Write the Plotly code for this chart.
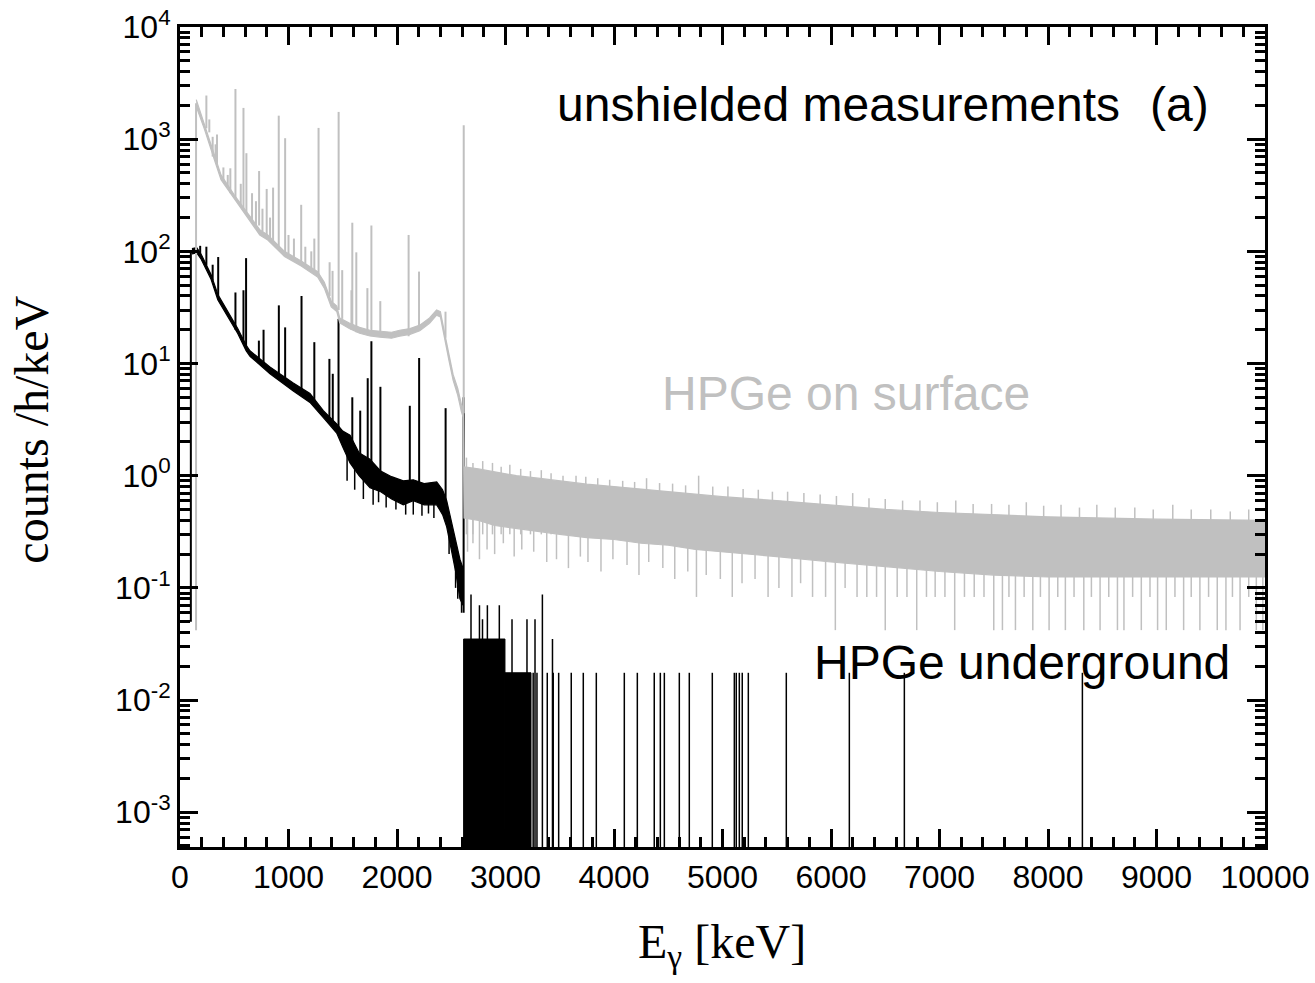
import plotly.graph_objects as go

# ---------------- data ----------------
# HPGe on surface (grey): continuum envelope (lower / upper edge of the drawn trace)
grey_cont_E = [150, 225, 317, 378, 501, 655, 735, 809, 963, 1117, 1195, 1268, 1330, 1394, 1445, 1472,
               1560, 1655, 1750, 1840, 1950, 2024, 2120, 2210, 2300, 2365, 2400, 2440, 2480, 2517, 2560, 2594, 2611,
               2618, 2750, 2900, 3100, 3300, 3500, 3750, 4000, 4250, 4500, 4750, 5000, 5500, 6000, 6500,
               7000, 7500, 8000, 9000, 10000]
grey_cont_lo = [1950, 1230, 655, 435, 288, 180, 140, 126, 90, 74, 66, 59, 47, 32, 29, 23,
                20.5, 18.6, 17.6, 17.2, 16.8, 17.5, 18.2, 19.6, 22.8, 27, 26, 16.5, 10.5, 7.1, 5.2, 3.7, 3.3,
                0.42, 0.40, 0.36, 0.34, 0.32, 0.30, 0.28, 0.27, 0.25, 0.24, 0.22, 0.21, 0.19, 0.17, 0.155,
                0.14, 0.13, 0.125, 0.125, 0.125]
grey_cont_hi = [2250, 1360, 725, 480, 318, 200, 156, 140, 100, 82, 73, 66, 53, 36, 32.5, 25.5,
                23, 21, 19.8, 19.3, 19, 19.8, 20.5, 22, 25.5, 30, 29, 18.5, 12, 8, 6, 4.3, 4.0,
                1.2, 1.15, 1.08, 1.0, 0.95, 0.9, 0.84, 0.8, 0.76, 0.72, 0.68, 0.65, 0.6, 0.55, 0.5,
                0.47, 0.45, 0.43, 0.41, 0.40]
# grey photopeaks: energy, top, base
grey_peak_E    = [148, 243, 270, 301, 328, 341, 400, 440, 464, 511, 560, 585, 612, 664, 700, 729, 760, 799,
                  830, 858, 910, 969, 1000, 1050, 1117, 1155, 1210, 1238, 1277,
                  1379, 1406, 1462, 1495, 1580, 1588, 1625, 1727, 1764, 1846, 2107, 2203, 2447, 2615]
grey_peak_top  = [2090, 2450, 1500, 1050, 900, 1100, 560, 480, 550, 2800, 400, 1900, 750, 330, 280, 520, 240, 360,
                  200, 370, 1620, 1020, 140, 130, 260, 110, 100, 130, 1260,
                  80, 67, 1750, 68, 45, 180, 98, 47, 170, 36, 140, 66, 29, 1330]
grey_peak_base = [0.042, 1250, 1150, 700, 640, 600, 430, 370, 330, 300, 255, 240, 220, 190, 172, 170, 150, 140,
                  128, 120, 105, 95, 92, 86, 78, 74, 70, 64, 62,
                  40, 35, 30, 25, 20, 20, 19, 18, 18, 18, 17.5, 20, 17, 3.6]
# grey noise: downward and upward excursions above 2614 keV
grey_dip_E  = [2650, 2700, 2760, 2830, 2900, 2980, 3080, 3150, 3260, 3380, 3470, 3580, 3690, 3760, 3880,
               3990, 4120, 4230, 4320, 4450, 4560, 4680, 4760, 4850, 4980, 5090, 5180, 5300, 5420, 5520,
               5640, 5720, 5830, 5950, 6040, 6130, 6240, 6330, 6420, 6500, 6610, 6700, 6790, 6880, 6960,
               7050, 7140, 7230, 7320, 7410, 7500, 7580, 7640, 7700, 7780, 7860, 7930, 8010, 8090, 8160,
               8240, 8330, 8400, 8480, 8560, 8640, 8700, 8780, 8860, 8940, 9010, 9090, 9170, 9250, 9320,
               9400, 9480, 9560, 9640, 9700, 9770, 9850, 9920, 9980]
grey_dip_lo = [0.21, 0.25, 0.18, 0.22, 0.20, 0.25, 0.19, 0.22, 0.21, 0.17, 0.18, 0.15, 0.19, 0.17, 0.14,
               0.18, 0.16, 0.13, 0.17, 0.15, 0.12, 0.14, 0.083, 0.13, 0.12, 0.083, 0.11, 0.12, 0.083, 0.1,
               0.083, 0.11, 0.083, 0.083, 0.042, 0.1, 0.083, 0.083, 0.083, 0.042, 0.083, 0.083, 0.042, 0.083, 0.083,
               0.083, 0.042, 0.083, 0.083, 0.083, 0.042, 0.042, 0.083, 0.042, 0.083, 0.042, 0.083, 0.042, 0.083, 0.042,
               0.083, 0.042, 0.083, 0.042, 0.083, 0.042, 0.042, 0.083, 0.042, 0.083, 0.042, 0.042, 0.083, 0.042, 0.083,
               0.042, 0.083, 0.042, 0.042, 0.083, 0.042, 0.083, 0.042, 0.042]
grey_spike_E  = [2640, 2700, 2790, 2880, 2960, 3040, 3140, 3230, 3330, 3420, 3530, 3650, 3740, 3850, 3960,
                 4080, 4190, 4300, 4420, 4540, 4660, 4780, 4910, 5050, 5190, 5330, 5460, 5600, 5750,
                 5900, 6050, 6200, 6350, 6500, 6660, 6820, 6980, 7150, 7310, 7480, 7640, 7800, 7960,
                 8120, 8290, 8450, 8620, 8800, 8970, 9150, 9320, 9500, 9680, 9850]
grey_spike_hi = [1.45, 1.3, 1.35, 1.3, 1.2, 1.25, 1.15, 1.1, 1.12, 1.05, 1.0, 1.0, 0.98, 0.95, 0.92,
                 0.9, 0.88, 0.95, 0.86, 0.85, 0.82, 1.0, 0.8, 0.8, 0.76, 0.75, 0.72, 0.72, 0.7,
                 0.68, 0.66, 0.7, 0.63, 0.62, 0.6, 0.6, 0.58, 0.6, 0.56, 0.56, 0.55, 0.58, 0.54,
                 0.55, 0.52, 0.55, 0.52, 0.52, 0.5, 0.55, 0.5, 0.5, 0.48, 0.5]

# HPGe underground (black): continuum envelope
black_cont_E = [110, 154, 195, 287, 348, 440, 532, 609, 645, 829, 1044, 1198, 1321, 1444, 1500, 1567,
                1650, 1751, 1850, 1950, 2058, 2150, 2250, 2366, 2420, 2458, 2500, 2540, 2580, 2608]
black_cont_lo = [95, 97, 85, 56, 37, 26.5, 18.5, 13, 11.6, 8.1, 5.7, 4.5, 3.3, 2.4, 1.8, 1.3,
                 1.0, 0.78, 0.72, 0.62, 0.55, 0.6, 0.55, 0.55, 0.45, 0.35, 0.22, 0.14, 0.08, 0.07]
black_cont_hi = [106, 108, 94, 62, 41.5, 29.5, 20.5, 14.6, 13, 9.3, 6.7, 5.4, 3.8, 2.9, 2.5, 2.3,
                 1.6, 1.4, 1.1, 0.98, 0.9, 0.92, 0.85, 0.88, 0.75, 0.6, 0.4, 0.28, 0.18, 0.15]
black_peak_E    = [100, 186, 243, 301, 352, 511, 585, 609, 727, 770, 911, 969, 1120, 1238, 1377, 1408,
                   1461, 1588, 1661, 1730, 1764, 1847, 2118, 2204, 2448, 2614]
black_peak_top  = [100, 112, 110, 76, 89, 43, 45, 87, 16, 20, 33, 21, 40, 15.5, 11, 8.1,
                   25, 5, 3.8, 7.4, 15.8, 6.2, 4.2, 11.2, 4, 5]
black_peak_base = [0.05, 95, 75, 55, 40, 20, 15, 14, 10, 9.5, 8, 7, 5.5, 4.5, 3.2, 3,
                   2.6, 1.4, 1.2, 1.0, 0.95, 0.9, 0.7, 0.7, 0.5, 0.06]
black_dip_E  = [1540, 1610, 1690, 1780, 1830, 1900, 1990, 2080, 2150, 2230, 2290, 2340, 2480, 2540, 2560, 2595]
black_dip_lo = [0.9, 0.75, 0.62, 0.55, 0.58, 0.52, 0.5, 0.45, 0.45, 0.44, 0.46, 0.42, 0.2, 0.1, 0.08, 0.06]
black_dip_hi = [1.6, 1.3, 1.2, 1.0, 0.9, 0.8, 0.8, 0.7, 0.7, 0.7, 0.7, 0.7, 0.4, 0.2, 0.2, 0.12]
# above 2614 keV: single counts (quantised levels) and dense runs of channels
black_run_start = [2614, 2995]
black_run_end   = [2995, 3235]
black_run_level = [0.035, 0.0175]
black_evt_E = [2682, 2760, 2788, 2833, 2943, 3060, 3198, 3272, 3340, 3433,
               3255, 3290, 3385, 3440, 3490, 3606, 3717, 3837, 4095, 4215, 4371, 4427, 4464,
               4602, 4694, 4906, 5109, 5127, 5155, 5182, 5238, 5588, 6169, 6676, 8317]
black_evt_lvl = [0.0875, 0.07, 0.0525, 0.07, 0.07, 0.0525, 0.0525, 0.0525, 0.0875, 0.035,
                 0.0175, 0.0175, 0.0175, 0.0175, 0.0175, 0.0175, 0.0175, 0.0175, 0.0175, 0.0175, 0.0175, 0.0175, 0.0175,
                 0.0175, 0.0175, 0.0175, 0.0175, 0.0175, 0.0175, 0.0175, 0.0175, 0.0175, 0.0175, 0.0175, 0.0175]
ZERO_FLOOR = 1e-4  # zero counts drawn to below the axis bottom

x_ticks = [0, 1000, 2000, 3000, 4000, 5000, 6000, 7000, 8000, 9000, 10000]
y_tick_exp = [-3, -2, -1, 0, 1, 2, 3, 4]

GREY = '#c0c0c0'
BLACK = '#000000'


def band(E, lo, hi, color):
    xs = list(E) + list(E)[::-1]
    ys = list(hi) + list(lo)[::-1]
    return go.Scatter(x=xs, y=ys, mode='lines', fill='toself', fillcolor=color,
                      line=dict(color=color, width=1.2), hoverinfo='skip', showlegend=False)


def segs(E, a, b, color, width):
    xs, ys = [], []
    for e, lo, hi in zip(E, a, b):
        xs += [e, e, None]
        ys += [lo, hi, None]
    return go.Scatter(x=xs, y=ys, mode='lines', line=dict(color=color, width=width),
                      hoverinfo='skip', showlegend=False, connectgaps=False)


fig = go.Figure()
# black (underground)
fig.add_trace(band(black_cont_E, black_cont_lo, black_cont_hi, BLACK))
fig.add_trace(segs(black_peak_E, black_peak_base, black_peak_top, BLACK, 2))
fig.add_trace(segs(black_dip_E, black_dip_lo, black_dip_hi, BLACK, 1.5))
for s, e, lv in zip(black_run_start, black_run_end, black_run_level):
    fig.add_trace(go.Scatter(x=[s, s, e, e], y=[ZERO_FLOOR, lv, lv, ZERO_FLOOR], mode='lines',
                             fill='toself', fillcolor=BLACK, line=dict(color=BLACK, width=1),
                             hoverinfo='skip', showlegend=False))
fig.add_trace(segs(black_evt_E, [ZERO_FLOOR] * len(black_evt_E), black_evt_lvl, BLACK, 1.5))
# grey (surface)
fig.add_trace(band(grey_cont_E, grey_cont_lo, grey_cont_hi, GREY))
fig.add_trace(segs(grey_peak_E, grey_peak_base, grey_peak_top, GREY, 2))
fig.add_trace(segs(grey_dip_E, grey_dip_lo, [0.5 if e < 6500 else 0.3 for e in grey_dip_E], GREY, 1.5))
fig.add_trace(segs(grey_spike_E, [0.3] * len(grey_spike_E), grey_spike_hi, GREY, 1.5))

minor_y = [m * 10 ** k for k in range(-4, 4) for m in range(2, 10)]

axis_common = dict(showline=True, linecolor='black', linewidth=3, mirror='allticks',
                   ticks='inside', ticklen=18, tickwidth=2.5, tickcolor='black',
                   showgrid=False, zeroline=False, automargin=False, ticklabeloverflow='allow',
                   tickfont=dict(family='Arial, Liberation Sans, sans-serif', size=32, color='black'))

fig.update_layout(
    width=1315, height=983,
    margin=dict(l=180, r=50, t=27, b=136, autoexpand=False),
    paper_bgcolor='white', plot_bgcolor='white',
    showlegend=False,
    xaxis=dict(range=[0, 10000], tickvals=x_ticks, ticktext=[str(v) for v in x_ticks],
               minor=dict(dtick=200, ticks='inside', ticklen=10, tickwidth=2.5, tickcolor='black'),
               **axis_common),
    yaxis=dict(type='log', range=[-3.31, 4.0],
               tickvals=[10 ** k for k in y_tick_exp],
               ticktext=['10<sup>%s</sup>' % k for k in y_tick_exp],
               minor=dict(tickvals=minor_y, ticks='inside', ticklen=10, tickwidth=2.5, tickcolor='black'),
               **axis_common),
)

ann_font = dict(family='Arial, Liberation Sans, sans-serif', size=48)
fig.add_annotation(text='unshielded measurements', xref='paper', yref='paper', x=0.3456, y=0.905,
                   xanchor='left', yanchor='middle', showarrow=False, font=dict(color='black', **ann_font))
fig.add_annotation(text='(a)', xref='paper', yref='paper', x=0.892, y=0.905,
                   xanchor='left', yanchor='middle', showarrow=False, font=dict(color='black', **ann_font))
fig.add_annotation(text='HPGe on surface', xref='paper', yref='paper', x=0.4424, y=0.553,
                   xanchor='left', yanchor='middle', showarrow=False, font=dict(color=GREY, **ann_font))
fig.add_annotation(text='HPGe underground', xref='paper', yref='paper', x=0.5825, y=0.225,
                   xanchor='left', yanchor='middle', showarrow=False, font=dict(color='black', **ann_font))
fig.add_annotation(text='counts /h/keV', xref='paper', yref='paper', x=-0.1377, y=0.5085,
                   xanchor='center', yanchor='middle', textangle=-90, showarrow=False,
                   font=dict(family='Times New Roman, Liberation Serif, serif', size=48, color='black'))
fig.add_annotation(text='E<sub>γ</sub> [keV]', xref='paper', yref='paper', x=0.4995, y=-0.1195,
                   xanchor='center', yanchor='middle', showarrow=False,
                   font=dict(family='Times New Roman, Liberation Serif, serif', size=48, color='black'))

# remove the browser's default 8 px page margin so the figure fills the window exactly
fig.write_html('out.html', config={'displayModeBar': False},
               post_script="document.body.style.margin='0px';")
